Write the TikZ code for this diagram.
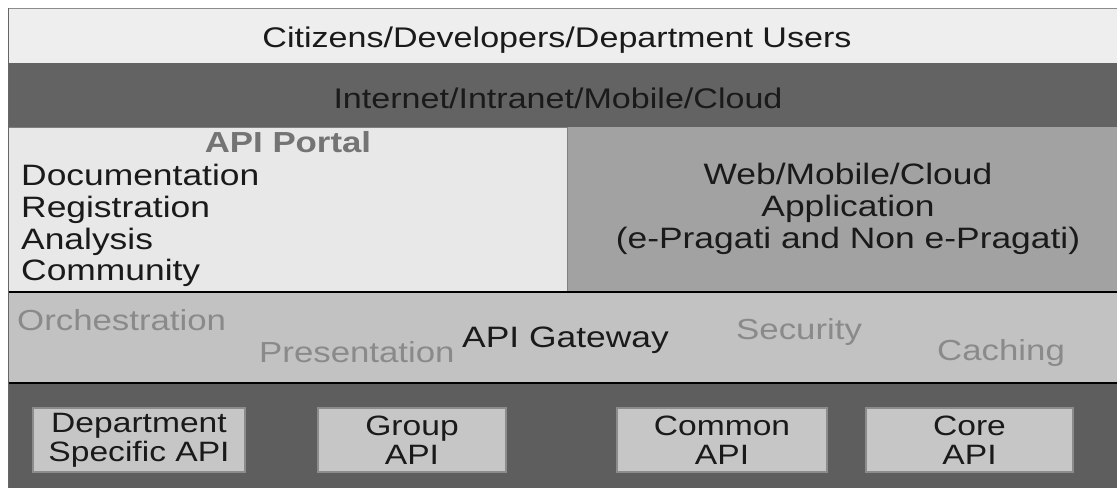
\documentclass[tikz,border=0pt]{standalone}
\usepackage{fontspec}
\setmainfont{Liberation Sans}[FakeStretch=1.2]
\definecolor{topfill}{HTML}{EEEEEE}
\definecolor{netfill}{HTML}{636363}
\definecolor{portalfill}{HTML}{E8E8E8}
\definecolor{appfill}{HTML}{A2A2A2}
\definecolor{gatefill}{HTML}{C2C2C2}
\definecolor{basefill}{HTML}{5E5E5E}
\definecolor{apifill}{HTML}{C6C6C6}
\definecolor{faint}{HTML}{8A8A8A}
\definecolor{portaltitle}{HTML}{747474}
\definecolor{txt}{HTML}{1A1A1A}
\tikzset{
  panel/.style={anchor=north west, inner sep=0pt, outer sep=0pt},
  lbl/.style={inner sep=0pt, text=txt, font=\fontsize{28.4}{32}\selectfont},
  biglbl/.style={inner sep=0pt, text=txt, font=\fontsize{29.5}{32}\selectfont},
  lbl2/.style={inner sep=0pt, text=txt, align=center, font=\fontsize{28}{29}\selectfont},
  faintlbl/.style={inner sep=0pt, anchor=base west, text=faint, font=\fontsize{29}{32}\selectfont},
  apibox/.style={anchor=north west, inner sep=0pt, outer sep=0pt, fill=apifill, draw=black!45, line width=1.2pt, minimum height=64pt}
}
\begin{document}
\begin{tikzpicture}[x=1pt,y=-1pt]
\useasboundingbox (0,0) rectangle (1117,488);
\fill[white] (0,0) rectangle (1117,488);
% layers
\node[panel, fill=topfill, draw=black!45, line width=1pt, minimum width=1112pt, minimum height=55pt] (users) at (8,8) {};
\node[panel, fill=netfill, minimum width=1109pt, minimum height=64pt] (net) at (8,63) {};
\node[panel, fill=appfill, minimum width=550pt, minimum height=165pt] (app) at (567,127) {};
\node[panel, fill=portalfill, draw=black!50, line width=1pt, minimum width=559pt, minimum height=165pt] (portal) at (8,127) {};
\node[panel, fill=gatefill, minimum width=1109pt, minimum height=91pt] (gate) at (8,292) {};
\node[panel, fill=basefill, minimum width=1109pt, minimum height=105pt] (base) at (8,383) {};
\draw[black, line width=2pt] (gate.north west) -- (gate.north east);
\draw[black, line width=2pt] (gate.south west) -- (gate.south east);
\draw[black!60, line width=1pt] (users.north west) -- (base.south west);
% texts of top layers
\node[lbl, anchor=base] (tusers) at (557,47) {Citizens/Developers/Department Users};
\node[lbl, anchor=base] (tnet) at (558,108) {Internet/Intranet/Mobile/Cloud};
\node[inner sep=0pt, anchor=base, text=portaltitle, font=\fontsize{29}{32}\selectfont\bfseries] (tportal) at (288,152) {API Portal};
\node[biglbl, anchor=base west] (doc) at (21,185) {Documentation};
\node[biglbl, anchor=base west] (reg) at (21,217) {Registration};
\node[biglbl, anchor=base west] (ana) at (21,249) {Analysis};
\node[biglbl, anchor=base west] (com) at (21,280) {Community};
\node[biglbl, anchor=base] (tapp1) at (848,184) {Web/Mobile/Cloud};
\node[biglbl, anchor=base] (tapp2) at (848,216) {Application};
\node[biglbl, anchor=base] (tapp3) at (848,248) {(e-Pragati and Non e-Pragati)};
% gateway
\node[faintlbl] (orch) at (17,330) {Orchestration};
\node[faintlbl] (pres) at (259,362) {Presentation};
\node[biglbl, anchor=base west] (tgate) at (462,347) {API Gateway};
\node[faintlbl] (sec) at (736,339) {Security};
\node[faintlbl] (cach) at (937,360) {Caching};
% APIs
\node[apibox, minimum width=212pt] (dept) at (33,408) {};
\node[apibox, minimum width=188pt] (group) at (318,408) {};
\node[apibox, minimum width=210pt] (common) at (617,408) {};
\node[apibox, minimum width=207pt] (core) at (866,408) {};
\node[lbl2] (tdept) at (dept.center) {Department\\Specific API};
\node[lbl2] (tgroup) at (group.center) {Group\\API};
\node[lbl2] (tcommon) at (common.center) {Common\\API};
\node[lbl2] (tcore) at (core.center) {Core\\API};
\end{tikzpicture}
\end{document}
